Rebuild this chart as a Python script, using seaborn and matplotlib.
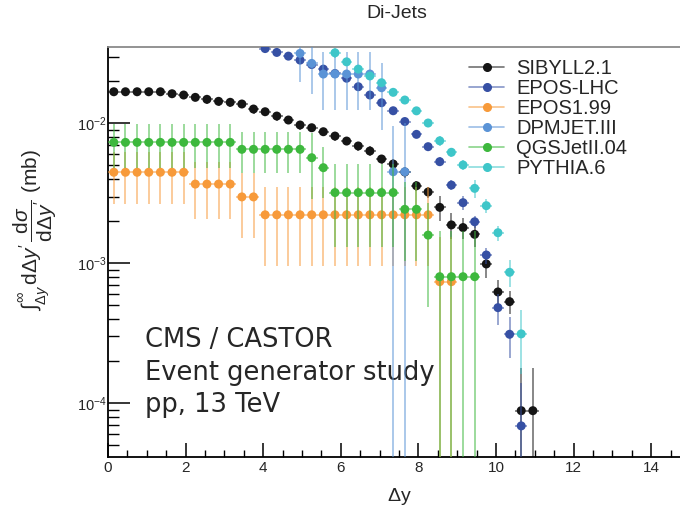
import numpy as np
import pandas as pd
import seaborn as sns
import matplotlib
matplotlib.use("Agg")
import matplotlib.pyplot as plt
from matplotlib.lines import Line2D
from matplotlib.ticker import LogLocator, MultipleLocator, NullFormatter
import matplotlib.colors as mcolors

# bin centres (width 0.3) in delta y
bin_centers = [0.15, 0.45, 0.75, 1.05, 1.35, 1.65, 1.95, 2.25, 2.55, 2.85, 3.15,
               3.45, 3.75, 4.05, 4.35, 4.65, 4.95, 5.25, 5.55, 5.85, 6.15, 6.45,
               6.75, 7.05, 7.35, 7.65, 7.95, 8.25, 8.55, 8.85, 9.15, 9.45, 9.75,
               10.05, 10.35, 10.65, 10.95]
half_width = 0.15

models = ["SIBYLL2.1", "EPOS-LHC", "EPOS1.99", "DPMJET.III", "QGSJetII.04", "PYTHIA.6"]
colors = ["#151515", "#3650a4", "#f79a3a", "#5a93d6", "#3db83d", "#3ec6c9"]

# first bin index of every model
first_bin = [0, 13, 0, 16, 0, 19]

sibyll = [0.01681, 0.01681, 0.01681, 0.01681, 0.01681, 0.01627, 0.01593, 0.01533,
          0.01484, 0.01436, 0.01413, 0.01374, 0.01265, 0.01210, 0.01127, 0.01056,
          0.00973, 0.00930, 0.00871, 0.00811, 0.00747, 0.00689, 0.00634, 0.00556,
          0.00512, 0.00449, 0.00358, 0.00323, 0.00251, 0.00188, 0.00180, 0.00161,
          0.000989, 0.000624, 0.000532, 0.0000885, 0.0000885]
sibyll_err = [0.0011, 0.0011, 0.0011, 0.0011, 0.0011, 0.0011, 0.0011, 0.001, 0.001,
              0.001, 0.001, 0.0009, 0.0009, 0.0008, 0.0008, 0.0007, 0.0007, 0.0006,
              0.0006, 0.0006, 0.0005, 0.0005, 0.0005, 0.0004, 0.0004, 0.0004, 0.0003,
              0.0003, 0.0005, 0.0004, 0.0003, 0.0003, 0.0002, 0.00013, 0.0001,
              0.00009, 0.00009]

epos_lhc = [0.0342, 0.0321, 0.0302, 0.0283, 0.0263, 0.0244, 0.0227, 0.0210, 0.01826,
            0.01593, 0.01403, 0.01230, 0.01030, 0.00834, 0.00681, 0.00532, 0.00362,
            0.00271, 0.00198, 0.001146, 0.000482, 0.000311, 0.0000689]
epos_lhc_err = [0.0015, 0.0014, 0.0013, 0.0012, 0.0012, 0.0011, 0.0010, 0.0010, 0.0009,
                0.0008, 0.0007, 0.0006, 0.0005, 0.0005, 0.0004, 0.0004, 0.0003, 0.0003,
                0.0002, 0.00015, 0.00012, 0.0001, 0.00007]

epos199 = [0.00447] * 7 + [0.00368] * 4 + [0.00298] * 2 + [0.00222] * 15 + [0.000739] * 2
epos199_err = [0.0018] * 7 + [0.0016] * 4 + [0.00147] * 2 + [0.00126] * 15 + [0.0008] * 2

dpmjet = [0.0316, 0.0268, 0.0225, 0.0225, 0.0225, 0.0225, 0.0225, 0.01796, 0.00451, 0.00451]
dpmjet_err = [0.0118, 0.0107, 0.0100, 0.0100, 0.0100, 0.0100, 0.0100, 0.0090, 0.0050, 0.0055]

qgsjet = ([0.00731] * 11 + [0.00652] * 6 + [0.00568] + [0.00482] + [0.00320] * 6
          + [0.00243] * 2 + [0.00159] + [0.000802] * 4)
qgsjet_err = ([0.0025] * 11 + [0.0021] * 6 + [0.0028] + [0.0019] + [0.0019] * 6
              + [0.0014] * 2 + [0.0011] + [0.0009] * 4)

pythia = [0.0319, 0.0275, 0.0244, 0.0218, 0.0195, 0.01665, 0.01467, 0.01228, 0.01005,
          0.00750, 0.00621, 0.00504, 0.00343, 0.00258, 0.001654, 0.000862, 0.000313]
pythia_err = [0.0027, 0.0018, 0.0015, 0.0013, 0.0012, 0.0010, 0.0009, 0.0008, 0.0007,
              0.0006, 0.0005, 0.0004, 0.0005, 0.0003, 0.0002, 0.00019, 0.00015]

values = [sibyll, epos_lhc, epos199, dpmjet, qgsjet, pythia]
errors = [sibyll_err, epos_lhc_err, epos199_err, dpmjet_err, qgsjet_err, pythia_err]

rows = []
for m, start, v, e in zip(models, first_bin, values, errors):
    for i in range(len(v)):
        rows.append({"model": m, "dy": bin_centers[start + i], "val": v[i], "err": e[i]})
df = pd.DataFrame(rows)

sns.set_theme(style="ticks")
plt.rcParams["font.family"] = ["Liberation Sans", "DejaVu Sans"]
plt.rcParams["mathtext.fontset"] = "custom"
plt.rcParams["mathtext.rm"] = "Liberation Sans"
plt.rcParams["mathtext.it"] = "Liberation Sans:italic"

fig = plt.figure(figsize=(6.8, 5.09), dpi=100)
ax = fig.add_axes([108 / 680, 52 / 509, 582 / 680, 410 / 509])

for k, (m, c) in enumerate(zip(models, colors)):
    d = df[df["model"] == m]
    lo = d["val"] - np.maximum(d["val"] - d["err"], 1e-7)
    hi = d["err"]
    ax.errorbar(d["dy"], d["val"], yerr=[lo, hi], xerr=half_width, fmt="none",
                ecolor=mcolors.to_rgba(c, 0.55), elinewidth=1.3, capsize=0, zorder=2 + 2 * k)
    sns.scatterplot(data=d, x="dy", y="val", color=c, s=42, edgecolor="none",
                    ax=ax, zorder=3 + 2 * k, legend=False)

ax.set_yscale("log")
ax.set_xlim(0, 15)
ax.set_ylim(4.13e-5, 0.0351)

ax.xaxis.set_major_locator(MultipleLocator(2))
ax.xaxis.set_minor_locator(MultipleLocator(0.5))
ax.yaxis.set_major_locator(LogLocator(base=10))
ax.yaxis.set_minor_locator(LogLocator(base=10, subs=np.arange(2, 10)))
ax.yaxis.set_minor_formatter(NullFormatter())

ax.tick_params(axis="x", which="major", direction="in", length=10, width=1.1,
               labelsize=11, pad=3, color="black")
ax.tick_params(axis="x", which="minor", direction="in", length=5, width=1.0, color="black")
ax.tick_params(axis="y", which="major", direction="in", length=16, width=1.1,
               labelsize=10.5, pad=1, color="black")
ax.tick_params(axis="y", which="minor", direction="in", length=8, width=1.0, color="black")

for s in ["left", "bottom"]:
    ax.spines[s].set_color("black")
    ax.spines[s].set_linewidth(1.3)
ax.spines["top"].set_color("#8a8a8a")
ax.spines["top"].set_linewidth(1.3)
ax.spines["right"].set_visible(False)

ax.set_xlabel(r"$\Delta$y", fontsize=14, labelpad=8)
ax.set_ylabel(r"$\int_{\Delta y}^{\infty}\,\mathrm{d}\Delta y^{\prime}\,"
              r"\dfrac{\mathrm{d}\sigma}{\mathrm{d}\Delta y^{\prime}}$ (mb)",
              fontsize=15)
ax.yaxis.set_label_coords(-0.085, 0.554)

fig.text(397 / 680, 1 - 14 / 509, "Di-Jets", ha="center", va="center", fontsize=14)

for txt, yy in [("CMS / CASTOR", 0.285), ("Event generator study", 0.205), ("pp, 13 TeV", 0.127)]:
    ax.text(0.0636, yy, txt, transform=ax.transAxes, fontsize=18.5,
            family="DejaVu Sans", va="center")

handles = [Line2D([], [], color=mcolors.to_rgba(c, 0.6), lw=1.2, marker="o", markersize=5.5,
                  markerfacecolor=c, markeredgecolor=c) for c in colors]
leg = fig.legend(handles, models, loc="upper left", bbox_to_anchor=(469 / 680, 1 - 59 / 509),
                 frameon=False, fontsize=14.5, handlelength=1.75, handletextpad=0.6,
                 labelspacing=0.05, borderpad=0, borderaxespad=0)

fig.savefig("out.png", dpi=100)
